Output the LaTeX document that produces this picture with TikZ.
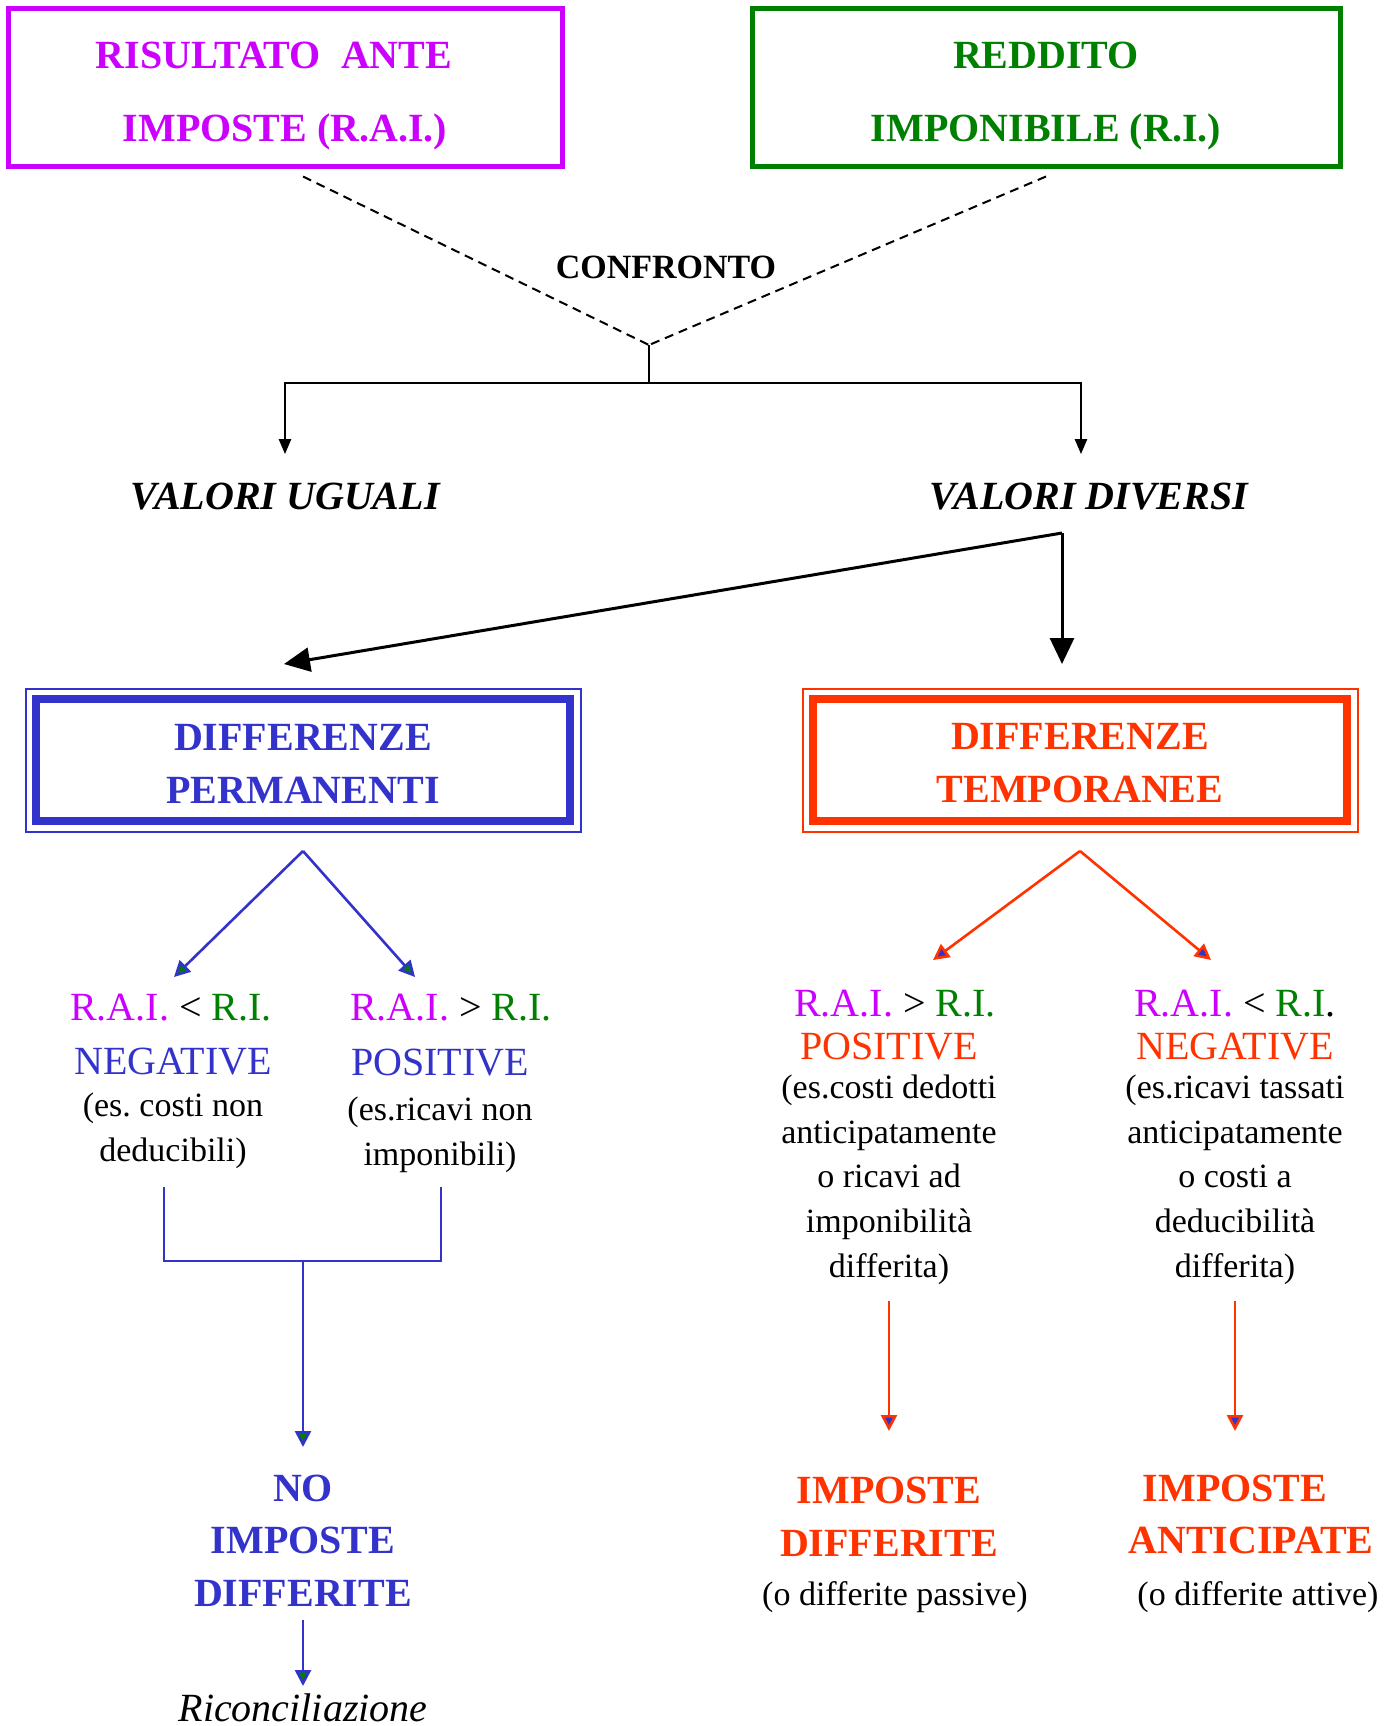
\documentclass[tikz,border=0pt]{standalone}
\usepackage{fontspec}
\setmainfont{Liberation Serif}
\usetikzlibrary{arrows.meta}
\usetikzlibrary{calc}
\definecolor{raicol}{RGB}{204,0,255}
\definecolor{ricol}{RGB}{0,128,0}
\definecolor{permcol}{RGB}{51,51,204}
\definecolor{tempcol}{RGB}{255,51,0}
\newcommand{\raitxt}{\textcolor{raicol}{R.A.I.}}
\newcommand{\ritxt}{\textcolor{ricol}{R.I.}}
\tikzset{>=latex}

\begin{document}
\begin{tikzpicture}[x=0.5pt,y=-0.5pt,
    topbox/.style={draw, line width=2.5pt, align=center, inner sep=0pt, minimum height=79pt,
        font=\fontsize{20}{36.5}\selectfont\bfseries},
    diffbox/.style={draw, line width=4pt, align=center, inner sep=0pt, minimum width=267pt,
        minimum height=61pt, font=\fontsize{20}{26.5}\selectfont\bfseries},
    txt/.style={anchor=base, inner sep=0pt, align=center},
    big/.style={txt, font=\fontsize{20}{26.5}\selectfont},
    bigbf/.style={txt, font=\fontsize{20}{26.25}\selectfont\bfseries},
    small/.style={txt, font=\fontsize{17}{22.3}\selectfont},
    cmpline/.style={dashed, dash pattern=on 4.5pt off 3pt, line width=1pt},
    blackhead/.style={-{Triangle[length=7.5pt,width=6pt]}, line width=1.2pt},
    bighead/.style={-{Triangle[length=13pt,width=12pt]}, line width=1.5pt},
    permarrow/.style={permcol, line width=1.3pt, -{Triangle[length=8pt,width=8pt,fill=ricol]}},
    temparrow/.style={tempcol, line width=1.3pt, -{Triangle[length=8pt,width=8pt,fill=permcol]}}]
\useasboundingbox (0,0) rectangle (1399,1726);

% the two values
\node[topbox, raicol, minimum width=277pt] (rai) at (285,87)
    {\rule{0pt}{22pt}RISULTATO\ \ ANTE\hspace*{11pt}\\IMPOSTE (R.A.I.)};
\node[topbox, ricol, minimum width=294pt] (ri) at (1046,87)
    {\rule{0pt}{22pt}REDDITO\\IMPONIBILE (R.I.)};

\coordinate (cmp) at (649,345);
\coordinate (split) at (649,383);
\draw[cmpline] ([xshift=9pt,yshift=-4pt]rai.south) -- (cmp);
\draw[cmpline] ([yshift=-4pt]ri.south) -- (cmp);
\node[txt, font=\fontsize{17}{20}\selectfont\bfseries] (cfr) at (666,278) {CONFRONTO};

\node[txt, font=\fontsize{20}{24}\selectfont\bfseries\itshape] (ugu) at (285,509) {VALORI UGUALI};
\node[txt, font=\fontsize{20}{24}\selectfont\bfseries\itshape] (div) at (1089,509) {VALORI DIVERSI};

\draw[line width=1.2pt] (cmp) -- (split);
\draw[blackhead, shorten >=14pt] (split) -| (ugu.north);
\draw[blackhead, shorten >=14pt] (split) -| ([xshift=-4pt]div.north);

% the two kinds of difference
\node[diffbox, permcol] (perm) at (303,760) {\rule{0pt}{16.5pt}DIFFERENZE\\PERMANENTI};
\node[diffbox, tempcol] (temp) at (1080,760) {\rule{0pt}{16.5pt}DIFFERENZE\\TEMPORANEE};
\draw[permcol, line width=1pt] ($(perm.north west)+(-6.5,-6.5)$) rectangle ($(perm.south east)+(6.5,6.5)$);
\draw[tempcol, line width=1pt] ($(temp.north west)+(-6.5,-6.5)$) rectangle ($(temp.south east)+(6.5,6.5)$);

\coordinate (fork) at (1062,533);
\coordinate (permin) at (284,664);
\coordinate (tempin) at (1062,664);
\draw[bighead] (fork) -- (permin);
\draw[bighead] (fork) -- (tempin);

% permanenti
\coordinate (papex) at (303,851);
\coordinate (pnegin) at (174,977);
\coordinate (pposin) at (415,977);
\draw[permarrow] (papex) -- (pnegin);
\draw[permarrow] (papex) -- (pposin);

\node[big] (hneg) at (171,1020) {\raitxt{} < \ritxt};
\node[big, permcol] (kneg) at (173,1074) {NEGATIVE};
\node[small] (dneg) at (173,1161) {(es.\ costi non\\deducibili)};
\node[big] (hpos) at (451,1020) {\raitxt{} > \ritxt};
\node[big, permcol] (kpos) at (440,1075) {POSITIVE};
\node[small] (dpos) at (440,1165) {(es.ricavi non\\imponibili)};

\coordinate (bl) at (164,1187);
\coordinate (br) at (441,1187);
\coordinate (bmid) at (303,1261);
\coordinate (noin) at (303,1447);
\draw[permcol, line width=1.3pt] (bl) |- (bmid) -| (br);
\draw[permarrow] (bmid) -- (noin);

\node[bigbf, permcol] (noimp) at (303,1606) {NO\\IMPOSTE\\DIFFERITE};
\node[txt, font=\fontsize{20}{24}\selectfont\itshape] (ric) at (303,1721) {Riconciliazione};
\coordinate (ricout) at (303,1620);
\coordinate (ricin) at (303,1686);
\draw[permarrow] (ricout) -- (ricin);

% temporanee
\coordinate (tapex) at (1080,851);
\coordinate (tposin) at (933,960);
\coordinate (tnegin) at (1211,960);
\draw[temparrow] (tapex) -- (tposin);
\draw[temparrow] (tapex) -- (tnegin);

\node[big] (htpos) at (895,1016) {\raitxt{} > \ritxt};
\node[big, tempcol] (ktpos) at (889,1059) {POSITIVE};
\node[small] (dtpos) at (889,1277) {(es.costi dedotti\\anticipatamente\\o ricavi ad\\imponibilità\\differita)};
\node[big] (htneg) at (1235,1016) {\raitxt{} < \textcolor{ricol}{R.I}.};
\node[big, tempcol] (ktneg) at (1235,1059) {NEGATIVE};
\node[small] (dtneg) at (1235,1277) {(es.ricavi tassati\\anticipatamente\\o costi a\\deducibilità\\differita)};

\coordinate (difout) at (889,1301);
\coordinate (difin) at (889,1431);
\coordinate (antout) at (1235,1301);
\coordinate (antin) at (1235,1431);
\draw[temparrow] (difout) -- (difin);
\draw[temparrow] (antout) -- (antin);

\node[bigbf, tempcol] (impdif) at (889,1556) {IMPOSTE\\DIFFERITE};
\node[small] (passive) at (895,1605) {(o differite passive)};
\node[bigbf, tempcol] (impant) at (1235,1501) {IMPOSTE};
\node[bigbf, tempcol] (antic) at (1251,1553) {ANTICIPATE};
\node[small] (attive) at (1258,1605) {(o differite attive)};
\end{tikzpicture}
\end{document}
